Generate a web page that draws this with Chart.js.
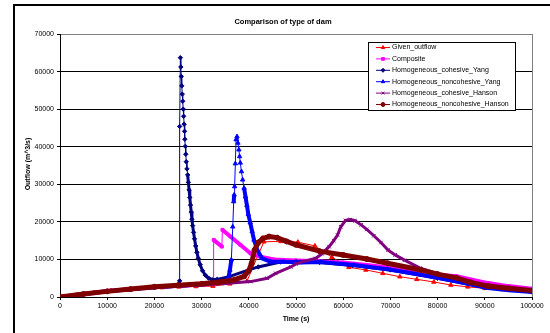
<!DOCTYPE html>
<html>
<head>
<meta charset="utf-8">
<script src="https://cdn.jsdelivr.net/npm/chart.js@4.4.1/dist/chart.umd.min.js"></script>
<style>
  html, body { margin: 0; padding: 0; background: #fff; overflow: hidden; }
  #wrap { position: relative; width: 550px; height: 333px; }
  #frame { position: absolute; left: 13px; top: 4px; width: 600px; height: 400px; border: 2px solid #000; pointer-events: none; }
</style>
</head>
<body>
<div id="wrap">
  <canvas id="dam" width="550" height="333"></canvas>
  <div id="frame"></div>
</div>
<script>
// [time (s), outflow (m^3/s)] pairs
const givenOutflow = [
  [0,0],[3600,600],[7200,1200],[10800,1700],[14400,2000],[18000,2300],[21600,2500],
  [25200,2700],[28800,2800],[32400,2900],[36000,3500],[39600,4200],[43200,14700],
  [46800,14800],[50400,14600],[54000,13600],[57600,10600],[61200,7900],[64800,7200],
  [68400,6300],[72000,5400],[75600,4700],[79200,4000],[82800,3200],[86400,2700],
  [90000,2300],[93600,2000],[97200,1800],[100800,1500]
];
const composite = [
  [0,0],[10000,1600],[20000,2600],[30000,3300],[32500,3500],[32550,15200],[34300,13400],
  [34400,17900],[36100,16100],[38200,13900],[40400,11600],[42500,10700],[45300,10000],
  [50000,9700],[55000,9500],[60000,9200],[65000,8500],[70000,7800],[76500,6600],
  [80000,5900],[84000,5500],[90700,3700],[95000,2900],[100000,2200]
];
const cohesiveYang = [
  [0,0],[10000,1500],[20000,2600],[25000,3000],[25350,4300],[25350,45400],[25500,63700],
  [25600,61200],[25700,58700],[25800,56200],[25900,54000],[26000,52100],[26100,50000],
  [26200,48100],[26300,46000],[26400,44100],[26450,42000],[26550,40100],[26650,38000],
  [26750,36000],[26900,34100],[27050,32500],[27200,30500],[27350,28500],[27500,26500],
  [27650,24500],[27800,22600],[27950,20700],[28100,19000],[28300,17200],[28500,15500],
  [28750,13600],[29000,11900],[29300,10300],[29700,8600],[30200,7000],[30800,5800],
  [31500,5000],[32200,4600],[33300,4700],[36000,5500],[40000,7200],[42000,8000],
  [46700,9300],[50000,9400],[55000,9200],[62000,8400],[70000,7200],[80000,5000],
  [90000,2500],[100000,1300]
];
const noncohesiveYang = [
  [0,0],[10000,1500],[20000,2600],[30000,3400],[35000,4200],[35700,5200],[36000,7200],
  [36300,9900],[36600,18700],[36800,25400],[36900,27200],[37000,29400],[37150,35500],
  [37300,41900],[37500,42700],[37700,41000],[37900,39200],[38050,37400],[38200,35700],
  [38450,33400],[38700,31200],[39000,29000],[39300,26700],[39600,24400],[39900,22000],
  [40300,19800],[40700,17500],[41100,15200],[41800,12500],[42800,10300],[44600,9400],
  [47400,9400],[51000,9200],[55200,9300],[62300,8500],[69400,7400],[76500,5900],
  [80000,5100],[84000,4200],[90700,2400],[95000,1800],[100000,1300]
];
const cohesiveHanson = [
  [0,0],[10000,1500],[20000,2500],[30000,3200],[35000,3600],[40400,4100],[43900,5000],
  [45700,6300],[48900,8000],[50000,8800],[52000,9600],[54200,10300],[55500,11500],
  [57000,13400],[58000,15000],[58800,16500],[59500,18700],[60500,20400],[61500,20600],
  [62500,20300],[63800,19200],[65000,18000],[66500,16300],[68000,14500],[69500,12500],
  [71000,11200],[73000,9800],[76300,7700],[80000,6200],[83600,5000],[87000,4000],
  [90000,3100],[95000,2400],[100000,1800]
];
const noncohesiveHanson = [
  [0,0],[5000,800],[10000,1500],[15000,2100],[20000,2700],[25000,3100],[30000,3500],
  [34000,4000],[37000,4600],[39000,5500],[40000,7000],[40600,9000],[41200,12500],
  [42000,14500],[43000,15600],[44300,16100],[46000,15800],[48000,14800],[50000,13900],
  [55000,12200],[60000,11200],[65000,10100],[69400,9000],[76500,7200],[80000,6100],
  [84000,5100],[87000,3900],[90700,2900],[95000,2300],[100000,1700]
];

const seriesNames = ['Given_outflow', 'Composite', 'Homogeneous_cohesive_Yang',
  'Homogeneous_noncohesive_Yang', 'Homogeneous_cohesive_Hanson', 'Homogeneous_noncohesive_Hanson'];
const seriesData = [givenOutflow, composite, cohesiveYang, noncohesiveYang, cohesiveHanson, noncohesiveHanson];
const seriesColors = ['#ff0000', '#ff00ff', '#000080', '#0000ff', '#800080', '#800000'];
const seriesMarkers = ['triangle', 'rect', 'rectRot', 'triangle', 'crossRot', 'circle'];
const seriesWidths = [1, 4, 3, 4, 3, 5];
const seriesRadii = [2.5, 2, 2.2, 2.5, 2.5, 2.5];
// above this flow the spikes show separate markers on a thin line
const thinAbove = [Infinity, Infinity, 31000, 27000, Infinity, Infinity];

const FONT = '"Liberation Sans", Arial, sans-serif';

// Excel's dense markers read as a thick band; on the spike tips and the
// near-vertical jumps only a thin connector shows between sparse markers.
const segWidth = (i) => (ctx) => {
  const dx = Math.abs(ctx.p1.x - ctx.p0.x), dy = Math.abs(ctx.p1.y - ctx.p0.y);
  const pts = seriesData[i];
  const lo = Math.min(pts[ctx.p0DataIndex][1], pts[ctx.p1DataIndex][1]);
  if (lo > thinAbove[i]) return 1;
  return (dy > 14 && dy > 2 * dx) ? 1 : seriesWidths[i];
};

const datasets = seriesData.map((pts, i) => ({
  label: seriesNames[i],
  data: pts.map(p => ({ x: p[0], y: p[1] })),
  showLine: true,
  borderColor: seriesColors[i],
  backgroundColor: seriesColors[i],
  borderWidth: seriesWidths[i],
  pointStyle: seriesMarkers[i],
  pointRadius: seriesRadii[i],
  pointBorderWidth: 1,
  pointBorderColor: seriesColors[i],
  pointBackgroundColor: seriesColors[i],
  segment: { borderWidth: segWidth(i) },
  order: seriesData.length - i   // later series painted on top, like Excel
}));

const textPlugin = {
  id: 'excelTexts',
  afterDraw(chart) {
    const c = chart.ctx, a = chart.chartArea;
    c.save();
    c.fillStyle = '#000';
    c.textAlign = 'center';
    c.textBaseline = 'middle';
    c.font = 'bold 7.5px ' + FONT;
    c.fillText('Comparison of type of dam', 283, 22);
    c.font = 'bold 7px ' + FONT;
    c.fillText('Time (s)', 296, 319);
    c.translate(28, 164);
    c.rotate(-Math.PI / 2);
    c.fillText('Outflow (m^3/s)', 0, 0);
    c.restore();

    // right plot-area border (gray, Excel default)
    c.save();
    c.strokeStyle = '#808080';
    c.lineWidth = 1;
    c.beginPath();
    c.moveTo(Math.round(a.right) + 0.5, a.top);
    c.lineTo(Math.round(a.right) + 0.5, a.bottom);
    c.stroke();
    c.restore();

    // legend box inside the plot area
    const lx = 368, ly = 42, lw = 147, lh = 68, step = 11.4;
    c.save();
    c.fillStyle = '#fff';
    c.fillRect(lx, ly, lw, lh);
    c.strokeStyle = '#000';
    c.lineWidth = 1;
    c.strokeRect(lx + 0.5, ly + 0.5, lw, lh);
    c.font = '7px ' + FONT;
    c.textAlign = 'left';
    c.textBaseline = 'middle';
    seriesNames.forEach((name, i) => {
      const y = ly + 5.5 + i * step;
      c.strokeStyle = seriesColors[i];
      c.fillStyle = seriesColors[i];
      c.lineWidth = 1;
      c.beginPath();
      c.moveTo(376, y);
      c.lineTo(390, y);
      c.stroke();
      Chart.helpers.drawPoint(c, { pointStyle: seriesMarkers[i], radius: 2, rotation: 0, borderWidth: 1 }, 383, y);
      c.fillStyle = '#000';
      c.fillText(name, 392, y);
    });
    c.restore();
  }
};

new Chart(document.getElementById('dam'), {
  type: 'scatter',
  data: { datasets },
  options: {
    responsive: false,
    animation: false,
    layout: { padding: { left: 0, right: 18, top: 34, bottom: 0 } },
    plugins: { legend: { display: false }, title: { display: false }, tooltip: { enabled: false } },
    scales: {
      x: {
        type: 'linear', min: 0, max: 100000,
        afterFit: (s) => { s.height = 36; },
        ticks: { stepSize: 10000, color: '#000', font: { family: FONT, size: 7 }, padding: 2, maxRotation: 0, callback: (v) => String(v) },
        grid: { drawOnChartArea: false, drawTicks: true, tickLength: 3, tickColor: '#000' },
        border: { color: '#000', width: 1 }
      },
      y: {
        min: 0, max: 70000,
        afterFit: (s) => { s.width = 60; },
        ticks: { stepSize: 10000, color: '#000', font: { family: FONT, size: 7 }, padding: 3, callback: (v) => String(v) },
        grid: {
          color: (ctx) => ctx.tick && ctx.tick.value === 70000 ? '#808080' : '#000',
          lineWidth: 1, tickLength: 3, tickColor: '#000'
        },
        border: { color: '#000', width: 1 }
      }
    }
  },
  plugins: [textPlugin]
});
</script>
</body>
</html>
